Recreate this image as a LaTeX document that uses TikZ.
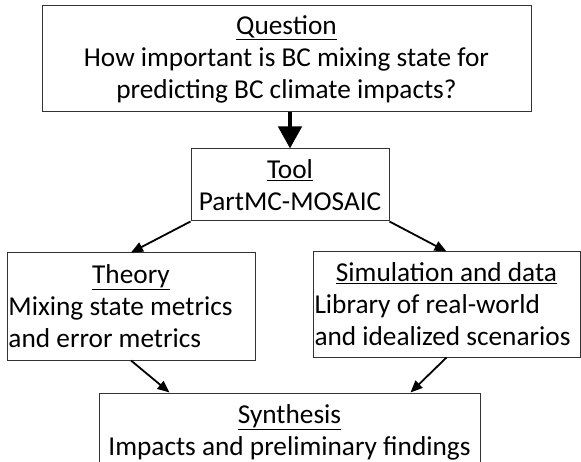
\documentclass[tikz,border=0pt]{standalone}
\usepackage{fontspec}
\setmainfont{Carlito}
\usetikzlibrary{arrows.meta}
\begin{document}
\begin{tikzpicture}[x=1pt,y=-1pt,
	box/.style={draw=black!80,line width=1pt,inner xsep=1.5pt,inner ysep=0pt,font=\fontsize{27.3}{32}\selectfont},
	cbox/.style={box,align=center},
	lbox/.style={box,align=flush left},
	thinarrow/.style={-{Triangle[length=12pt,width=10pt]},line width=1.8pt},
	thickarrow/.style={-{Triangle[length=22pt,width=23pt]},line width=4.5pt}]
	\useasboundingbox (0,0) rectangle (581,462);
	\clip (0,0) rectangle (581,462);
	\node[cbox,minimum width=489pt,minimum height=106pt] (question) at (286.5,59) {\underline{Question}\\How important is BC mixing state for\\predicting BC climate impacts?};
	\node[cbox,minimum width=198pt,minimum height=72pt] (tool) at (290,185) {\underline{Tool}\\PartMC-MOSAIC};
	\node[lbox,text width=245pt,minimum height=107pt] (theory) at (131,306.5) {\makebox[\hsize]{\underline{Theory}}\\Mixing state metrics\\and error metrics};
	\node[lbox,text width=264pt,minimum height=105pt] (sim) at (446.5,304.5) {\makebox[\hsize]{\underline{Simulation and data}}\\Library of real-world\\and idealized scenarios};
	\node[cbox,minimum width=381pt,minimum height=78pt] (synth) at (289.5,432) {\underline{Synthesis}\\Impacts and preliminary findings};
	\draw[thickarrow] (question.south -| tool.north) -- (tool.north);
	\draw[thinarrow] (tool.south west) -- (theory.north);
	\draw[thinarrow] (tool.south east) -- (sim.north);
	\draw[thinarrow] (theory.south) -- ([xshift=71pt]synth.north west);
	\draw[thinarrow] (sim.south) -- ([xshift=-70pt]synth.north east);
\end{tikzpicture}
\end{document}
